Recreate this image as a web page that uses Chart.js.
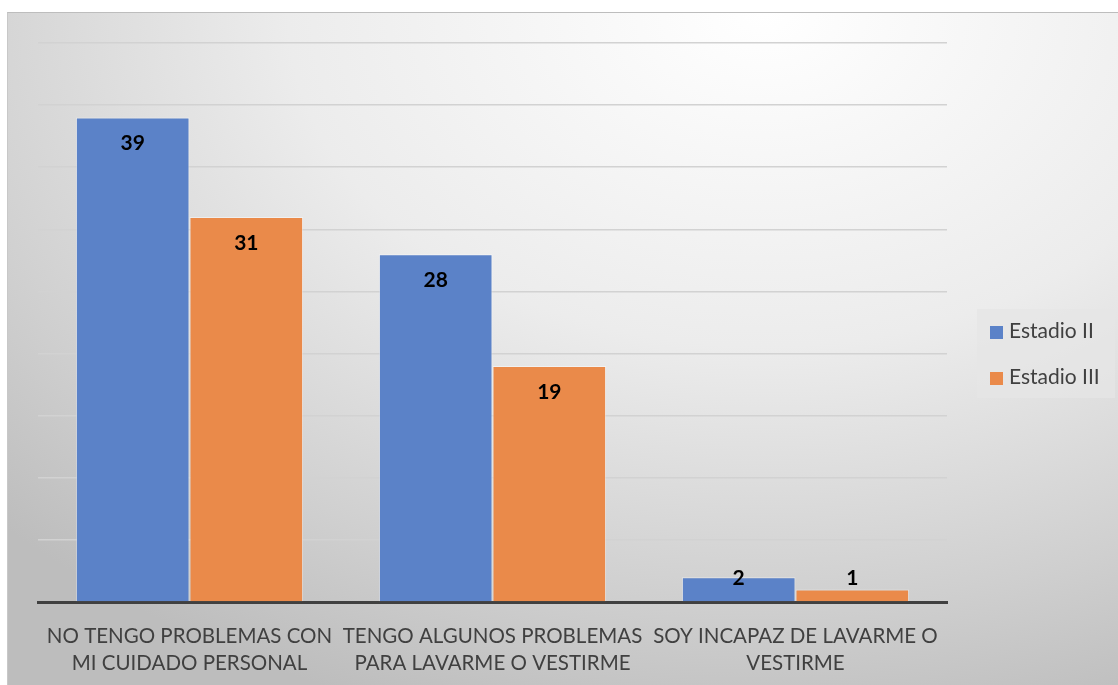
<!DOCTYPE html>
<html>
<head>
<meta charset="utf-8">
<script src="https://cdn.jsdelivr.net/npm/chart.js@4"></script>
<style>
  body { margin: 0; background: #fff; width: 1118px; height: 685px; overflow: hidden; }
  #marco {
    position: absolute; left: 7px; top: 12px; width: 1111px; height: 673px;
    border-top: 1px solid #bdbdbd; border-left: 1px solid #c8c8c8;
    background: radial-gradient(ellipse 95% 110% at 68% 0%, #ffffff 0%, #ececec 45%, #cfcfcf 80%, #bdbdbd 100%);
  }
  #grafico { position: absolute; left: 0; top: 0; }
  #leyenda {
    position: absolute; left: 969px; top: 296px; width: 138px; height: 89px;
    background: rgba(230,230,230,0.75);
    font-family: Lato, sans-serif; font-size: 21px; color: #404040;
  }
  #leyenda div { position: absolute; left: 13px; height: 24px; line-height: 24px; white-space: nowrap; }
  #leyenda span { display: inline-block; width: 13px; height: 13px; margin-right: 6px; vertical-align: -1px; }
</style>
</head>
<body>
<div id="marco">
  <canvas id="grafico" width="1111" height="673"></canvas>
  <div id="leyenda"></div>
</div>
<script>
const categorias = [
  ['NO TENGO PROBLEMAS CON', 'MI CUIDADO PERSONAL'],
  ['TENGO ALGUNOS PROBLEMAS', 'PARA LAVARME O VESTIRME'],
  ['SOY INCAPAZ DE LAVARME O', 'VESTIRME']
];
const estadioII = [39, 28, 2];
const estadioIII = [31, 19, 1];
const series = ['Estadio II', 'Estadio III'];
const colores = ['#5b82c8', '#ea8a4a'];

// etiquetas de datos dentro del extremo de la barra
const etiquetas = {
  id: 'etiquetas',
  afterDatasetsDraw(chart) {
    const ctx = chart.ctx;
    const base = chart.scales.y.getPixelForValue(0);
    ctx.save();
    ctx.font = 'bold 21px Lato, sans-serif';
    ctx.fillStyle = '#000';
    ctx.textAlign = 'center';
    ctx.textBaseline = 'middle';
    chart.data.datasets.forEach((ds, i) => {
      chart.getDatasetMeta(i).data.forEach((bar, j) => {
        const y = Math.min(bar.y + 26, base - 24);
        ctx.fillText(ds.data[j], bar.x, y);
      });
    });
    ctx.restore();
  }
};

const ctx = document.getElementById('grafico').getContext('2d');
const grafico = new Chart(ctx, {
  type: 'bar',
  data: {
    labels: categorias,
    datasets: [
      {
        label: series[0],
        data: estadioII,
        backgroundColor: colores[0],
        borderColor: 'rgba(255,255,255,0.45)',
        borderWidth: 1,
        categoryPercentage: 0.75,
        barPercentage: 1
      },
      {
        label: series[1],
        data: estadioIII,
        backgroundColor: colores[1],
        borderColor: 'rgba(255,255,255,0.45)',
        borderWidth: 1,
        categoryPercentage: 0.75,
        barPercentage: 1
      }
    ]
  },
  options: {
    responsive: false,
    animation: false,
    layout: { padding: { left: 30, right: 172, top: 30, bottom: 0 } },
    plugins: {
      legend: { display: false },
      tooltip: { enabled: false }
    },
    scales: {
      x: {
        grid: { display: false },
        border: { color: '#404040', width: 3 },
        ticks: {
          color: '#404040',
          font: { family: 'Lato, sans-serif', size: 20.5, lineHeight: 1.3 },
          maxRotation: 0,
          autoSkip: false,
          padding: 13
        },
        afterFit(scale) { scale.height = 84; }
      },
      y: {
        min: 0,
        max: 45,
        ticks: { stepSize: 5, display: false },
        grid: { color: '#d2d2d2', lineWidth: 1.5, drawTicks: false },
        border: { display: false },
        afterFit(scale) { scale.width = 0; }
      }
    }
  },
  plugins: [etiquetas]
});

// leyenda a la derecha
const leyenda = document.getElementById('leyenda');
series.forEach((nombre, i) => {
  const fila = document.createElement('div');
  fila.style.top = (9 + i * 46) + 'px';
  fila.innerHTML = '<span style="background:' + colores[i] + '"></span>' + nombre;
  leyenda.appendChild(fila);
});
</script>
</body>
</html>
